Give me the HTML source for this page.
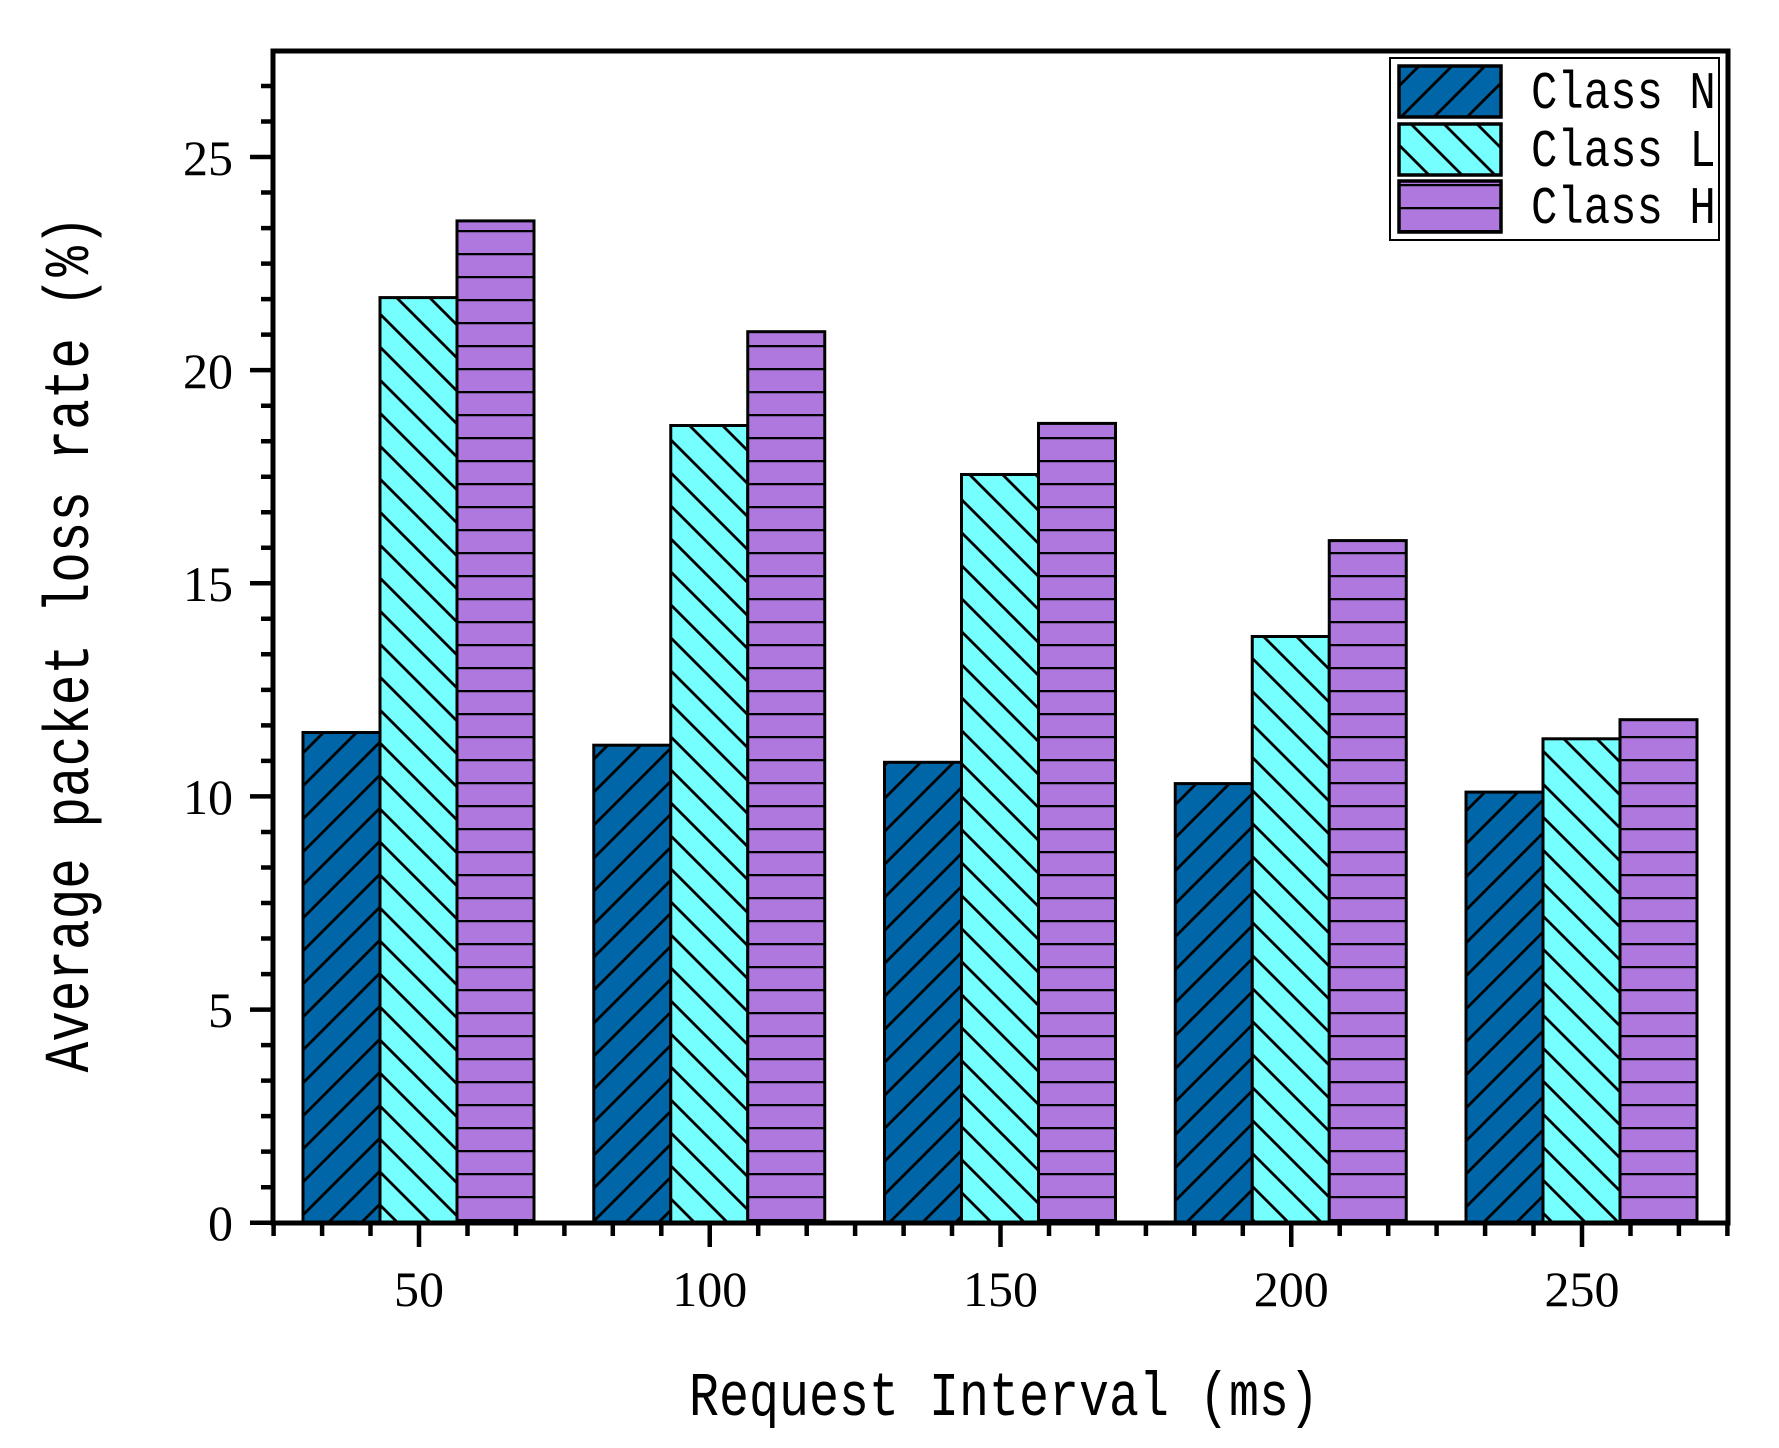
<!DOCTYPE html>
<html><head><meta charset="utf-8"><style>
html,body{margin:0;padding:0;background:#fff;}
svg{display:block;}
</style></head><body>
<svg width="1779" height="1448" viewBox="0 0 1779 1448" xmlns="http://www.w3.org/2000/svg">
<defs>
<pattern id="pN" patternUnits="userSpaceOnUse" width="33" height="33">
<rect width="33" height="33" fill="#0066a8"/>
<path d="M-5,38 L38,-5 M-5,5 L5,-5 M28,38 L38,28" stroke="#000" stroke-width="2.8"/>
</pattern>
<pattern id="pL" patternUnits="userSpaceOnUse" width="33" height="33">
<rect width="33" height="33" fill="#75ffff"/>
<path d="M-5,-5 L38,38 M-5,28 L5,38 M28,-5 L38,5" stroke="#000" stroke-width="2.8"/>
</pattern>
<pattern id="pH" patternUnits="userSpaceOnUse" width="20" height="23">
<rect width="20" height="23" fill="#af78de"/>
<path d="M0,1 L20,1" stroke="#000" stroke-width="2.5"/>
</pattern>
</defs>
<g stroke="#000" stroke-width="3">
<rect x="303" y="732.5" width="77" height="490" fill="url(#pN)"/>
<rect x="380" y="297.6" width="77" height="925" fill="url(#pL)"/>
<rect x="457" y="220.9" width="77" height="1002" fill="url(#pH)"/>
<rect x="593.75" y="745.2" width="77" height="477" fill="url(#pN)"/>
<rect x="670.75" y="425.5" width="77" height="797" fill="url(#pL)"/>
<rect x="747.75" y="331.7" width="77" height="891" fill="url(#pH)"/>
<rect x="884.5" y="762.3" width="77" height="460" fill="url(#pN)"/>
<rect x="961.5" y="474.5" width="77" height="748" fill="url(#pL)"/>
<rect x="1038.5" y="423.4" width="77" height="799" fill="url(#pH)"/>
<rect x="1175.25" y="783.6" width="77" height="439" fill="url(#pN)"/>
<rect x="1252.25" y="636.5" width="77" height="586" fill="url(#pL)"/>
<rect x="1329.25" y="540.6" width="77" height="682" fill="url(#pH)"/>
<rect x="1466" y="792.1" width="77" height="430" fill="url(#pN)"/>
<rect x="1543" y="738.8" width="77" height="484" fill="url(#pL)"/>
<rect x="1620" y="719.7" width="77" height="503" fill="url(#pH)"/>
</g>
<rect x="273" y="51" width="1455" height="1172" fill="none" stroke="#000" stroke-width="5"/>
<g stroke="#000" stroke-width="4.5">
<path d="M250,1222.7H273 M250,1009.6H273 M250,796.4H273 M250,583.3H273 M250,370.1H273 M250,157H273"/>
<path d="M261,1187.2H273 M261,1151.6H273 M261,1116.1H273 M261,1080.6H273 M261,1045.1H273
M261,974.1H273 M261,938.5H273 M261,903H273 M261,867.5H273 M261,832H273
M261,760.9H273 M261,725.4H273 M261,689.9H273 M261,654.3H273 M261,618.8H273
M261,547.8H273 M261,512.3H273 M261,476.7H273 M261,441.2H273 M261,405.7H273
M261,334.6H273 M261,299.1H273 M261,263.6H273 M261,228.1H273 M261,192.5H273
M261,121.5H273 M261,86H273"/>
<path d="M419,1222V1247 M709.75,1222V1247 M1000.5,1222V1247 M1291.25,1222V1247 M1582,1222V1247"/>
<path d="M273.6,1222V1236 M322.1,1222V1236 M370.5,1222V1236 M467.5,1222V1236 M515.9,1222V1236 M564.4,1222V1236 M612.8,1222V1236 M661.3,1222V1236
M758.2,1222V1236 M806.7,1222V1236 M855.1,1222V1236 M903.6,1222V1236 M952,1222V1236
M1049,1222V1236 M1097.4,1222V1236 M1145.9,1222V1236 M1194.3,1222V1236 M1242.8,1222V1236
M1339.7,1222V1236 M1388.2,1222V1236 M1436.6,1222V1236 M1485.1,1222V1236 M1533.5,1222V1236
M1630.5,1222V1236 M1678.9,1222V1236 M1727.4,1222V1236"/>
</g>
<g font-family="Liberation Serif, serif" font-size="50" fill="#000" text-anchor="end">
<text x="233" y="1240">0</text>
<text x="233" y="1027">5</text>
<text x="233" y="814">10</text>
<text x="233" y="601">15</text>
<text x="233" y="388">20</text>
<text x="233" y="175">25</text>
</g>
<g font-family="Liberation Serif, serif" font-size="50" fill="#000" text-anchor="middle">
<text x="419" y="1306">50</text>
<text x="709.75" y="1306">100</text>
<text x="1000.5" y="1306">150</text>
<text x="1291.25" y="1306">200</text>
<text x="1582" y="1306">250</text>
</g>
<text transform="translate(1004,1415) scale(1,1.25)" x="0" y="0" font-family="Liberation Mono, monospace" font-size="50" text-anchor="middle" fill="#000">Request Interval (ms)</text>
<text transform="translate(88,644) rotate(-90) scale(1,1.25)" x="0" y="0" font-family="Liberation Mono, monospace" font-size="51" text-anchor="middle" fill="#000">Average packet loss rate (%)</text>
<rect x="1390" y="58" width="329" height="182" fill="#fff" stroke="#000" stroke-width="2"/>
<g stroke="#000" stroke-width="3.5">
<rect x="1399" y="66" width="102" height="51" fill="url(#pN)"/>
<rect x="1399" y="124" width="102" height="51" fill="url(#pL)"/>
<rect x="1399" y="181" width="102" height="51" fill="url(#pH)"/>
</g>
<g font-family="Liberation Mono, monospace" font-size="44" fill="#000">
<text transform="translate(1531,108) scale(1,1.2)">Class N</text>
<text transform="translate(1531,166) scale(1,1.2)">Class L</text>
<text transform="translate(1531,223) scale(1,1.2)">Class H</text>
</g>
</svg>
</body></html>
